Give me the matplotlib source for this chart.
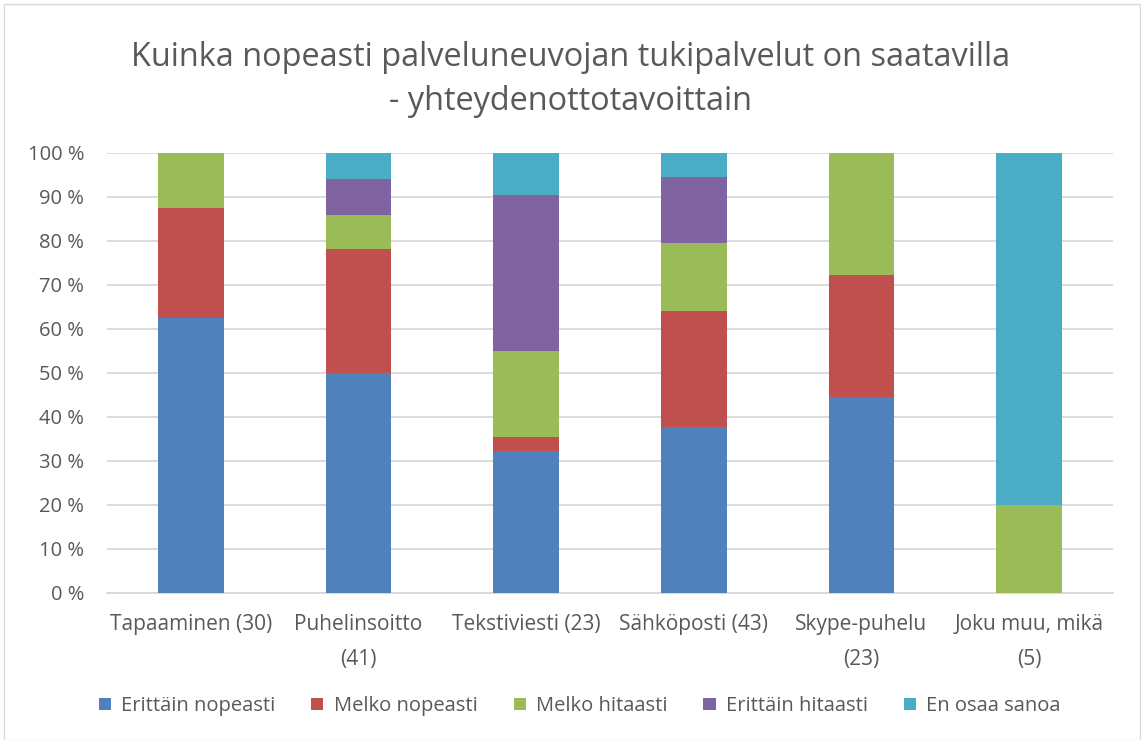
import matplotlib
matplotlib.use("Agg")
import matplotlib.pyplot as plt
from matplotlib.patches import Rectangle
import numpy as np

categories = ["Tapaaminen (30)", "Puhelinsoitto\n(41)", "Tekstiviesti (23)",
              "Sähköposti (43)", "Skype-puhelu\n(23)", "Joku muu, mikä\n(5)"]
series_names = ["Erittäin nopeasti", "Melko nopeasti", "Melko hitaasti",
                "Erittäin hitaasti", "En osaa sanoa"]
erittain_nopeasti = [62.5, 50.0, 32.1, 37.7, 44.4, 0.0]
melko_nopeasti    = [25.0, 28.1, 3.3, 26.3, 27.8, 0.0]
melko_hitaasti    = [12.5, 7.8, 19.5, 15.5, 27.8, 20.0]
erittain_hitaasti = [0.0, 8.1, 35.5, 15.0, 0.0, 0.0]
en_osaa_sanoa     = [0.0, 6.0, 9.6, 5.5, 0.0, 80.0]
ytick_labels = [f"{v} %" for v in range(0, 101, 10)]

colors = ["#4F81BD", "#C0504D", "#9BBB59", "#8064A2", "#4BACC6"]
text_color = "#595959"
font = "Open Sans"

fig = plt.figure(figsize=(11.41, 7.40), dpi=100)
ax = fig.add_axes([107/1141, 1-592.7/740, (1113-107)/1141, 440/740])

x = np.arange(len(categories))
bottom = np.zeros(len(categories))
for name, vals, c in zip(series_names,
                         [erittain_nopeasti, melko_nopeasti, melko_hitaasti,
                          erittain_hitaasti, en_osaa_sanoa], colors):
    v = np.array(vals)
    ax.bar(x, v, bottom=bottom, width=0.39, color=c, label=name, zorder=3)
    bottom += v

ax.set_xlim(-0.5, len(categories) - 0.5)
ax.set_ylim(0, 100)
ax.set_yticks(range(0, 101, 10))
ax.set_yticklabels(ytick_labels, fontsize=14.5, color=text_color, family=font)
ax.set_xticks(x)
ax.set_xticklabels(categories, fontsize=15, color=text_color, family=font,
                   linespacing=1.9, va="top")
ax.tick_params(axis="both", length=0)
ax.tick_params(axis="y", pad=16.5)
ax.tick_params(axis="x", pad=15)
ax.grid(axis="y", color="#D9D9D9", linewidth=1.3, zorder=0)
for s in ["top", "right", "left"]:
    ax.spines[s].set_visible(False)
ax.spines["bottom"].set_color("#D9D9D9")
ax.spines["bottom"].set_linewidth(1.3)

fig.text(0.5, 1-57/740, "Kuinka nopeasti palveluneuvojan tukipalvelut on saatavilla",
         ha="center", va="center", fontsize=23.4, color=text_color, family=font)
fig.text(0.5, 1-101/740, "- yhteydenottotavoittain",
         ha="center", va="center", fontsize=23.4, color=text_color, family=font)

handles, labels = ax.get_legend_handles_labels()
leg = fig.legend(handles, labels, loc="center", bbox_to_anchor=(0.508, 1-706/740),
                 ncol=5, frameon=False, handlelength=0.6, handleheight=0.6,
                 handletextpad=0.5, columnspacing=1.8,
                 prop={"family": font, "size": 14.5})
for t in leg.get_texts():
    t.set_color(text_color)

fig.patches.append(Rectangle((4/1141, 0.0), 1-5/1141, 1-4/740, transform=fig.transFigure,
                             fill=False, edgecolor="#D9D9D9", linewidth=1.0))

fig.savefig("out.png", dpi=100)
